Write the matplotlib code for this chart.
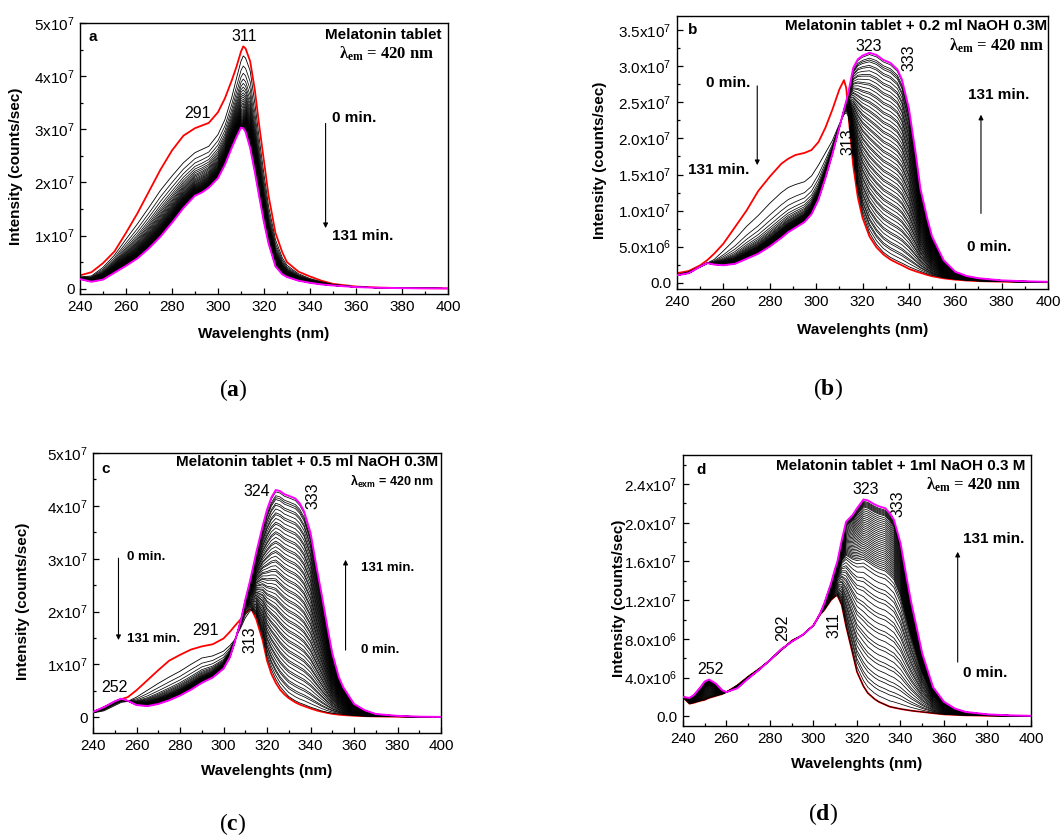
import numpy as np
import matplotlib
matplotlib.use('Agg')
import matplotlib.pyplot as plt
from matplotlib.ticker import MultipleLocator

plt.rcParams['font.family'] = ['Liberation Sans', 'DejaVu Sans']
plt.rcParams['mathtext.default'] = 'regular'
plt.rcParams['mathtext.fontset'] = 'custom'
plt.rcParams['mathtext.rm'] = 'Liberation Serif'
plt.rcParams['mathtext.bf'] = 'Liberation Serif:bold'

# spectra in units of 1e7 counts/sec
# (a) melatonin tablet
wl_a = [240, 245, 250, 255, 260, 265, 270, 275, 280, 285, 290, 293, 296, 300, 303, 306, 308, 310, 311,
        312, 314, 316, 318, 320, 322, 325, 328, 330, 335, 340, 345, 350, 360, 370, 380, 390, 400]
red_a = [0.25, 0.31, 0.48, 0.70, 1.05, 1.42, 1.83, 2.24, 2.60, 2.88, 3.02, 3.07, 3.12, 3.32, 3.58, 3.92, 4.17,
         4.46, 4.56, 4.52, 4.28, 3.75, 3.05, 2.40, 1.75, 1.05, 0.68, 0.50, 0.32, 0.23, 0.15, 0.09, 0.04, 0.02,
         0.012, 0.008, 0.005]
first_a = [0.22, 0.24, 0.40, 0.63, 0.93, 1.22, 1.53, 1.85, 2.12, 2.37, 2.56, 2.62, 2.68, 2.90, 3.18, 3.60, 3.95,
           4.28, 4.38, 4.34, 4.10, 3.50, 2.80, 2.15, 1.55, 0.92, 0.58, 0.44, 0.28, 0.19, 0.13, 0.08, 0.035, 0.018,
           0.011, 0.007, 0.005]
mag_a = [0.18, 0.13, 0.17, 0.30, 0.43, 0.57, 0.76, 0.98, 1.24, 1.52, 1.75, 1.81, 1.90, 2.08, 2.33, 2.65, 2.85,
         3.03, 3.02, 2.95, 2.65, 2.20, 1.72, 1.25, 0.85, 0.42, 0.27, 0.22, 0.15, 0.11, 0.08, 0.06, 0.03, 0.016,
         0.01, 0.007, 0.005]
# progress (%) of each intermediate scan from the first black scan to the 131 min one
steps_a = [14, 24, 32, 38, 43, 47, 51, 54, 57, 60, 62.5, 65, 67, 69, 71, 73, 74.5, 76, 77.5, 79, 80.3, 81.5,
           82.7, 83.8, 84.9, 85.9, 86.9, 87.8, 88.7, 89.5, 90.3, 91.1, 91.8, 92.5, 93.2, 93.8, 94.4, 95, 95.5,
           96, 96.5, 97, 97.5, 97.9, 98.3, 98.7, 99.1, 99.5]

# (b) + 0.2 ml NaOH
wl_b = [240, 245, 250, 253, 256, 260, 265, 270, 275, 280, 285, 288, 291, 295, 298, 301, 304, 307, 310, 312,
        313, 314, 316, 318, 320, 323, 326, 329, 332, 335, 337, 340, 343, 345, 348, 350, 355, 360, 365, 370,
        380, 390, 400]
red_b = [0.13, 0.16, 0.24, 0.31, 0.40, 0.54, 0.77, 1.00, 1.27, 1.47, 1.65, 1.72, 1.77, 1.80, 1.84, 1.95, 2.15,
         2.40, 2.68, 2.81, 2.70, 2.30, 1.62, 1.18, 0.90, 0.64, 0.49, 0.39, 0.32, 0.27, 0.24, 0.19, 0.155, 0.135,
         0.105, 0.088, 0.058, 0.04, 0.028, 0.02, 0.012, 0.007, 0.005]
first_b = [0.11, 0.15, 0.22, 0.27, 0.32, 0.44, 0.60, 0.78, 0.93, 1.10, 1.25, 1.32, 1.36, 1.40, 1.48, 1.63, 1.80,
           1.97, 2.20, 2.33, 2.36, 2.30, 1.72, 1.26, 0.96, 0.69, 0.53, 0.42, 0.35, 0.30, 0.27, 0.22, 0.18, 0.155,
           0.12, 0.10, 0.066, 0.045, 0.032, 0.023, 0.014, 0.008, 0.005]
mag_b = [0.10, 0.13, 0.22, 0.27, 0.25, 0.24, 0.26, 0.33, 0.40, 0.50, 0.62, 0.70, 0.76, 0.84, 0.95, 1.15, 1.45,
         1.78, 2.15, 2.40, 2.52, 2.65, 2.98, 3.10, 3.15, 3.19, 3.16, 3.09, 3.05, 2.96, 2.82, 2.42, 1.78, 1.30,
         0.88, 0.64, 0.31, 0.15, 0.09, 0.06, 0.03, 0.018, 0.01]
steps_b_short = [27, 40, 50, 57, 62, 66, 69, 72, 74, 76, 78, 79.5, 81, 82, 83, 84, 85, 86, 87, 87.5, 88, 88.5,
                 89, 89.5, 90, 90.5, 91, 91.5, 92, 92.4, 92.8, 93.2, 93.6, 94, 94.3, 94.6, 94.9, 95.2, 95.5, 95.8,
                 96.1, 96.4, 96.7, 97, 97.2, 97.4, 97.6, 97.8, 98, 98.2, 98.4, 98.6, 98.8, 99, 99.2, 99.4, 99.5,
                 99.6, 99.8, 99.9]
steps_even = [2, 4, 5, 7, 8, 10, 12, 13, 15, 17, 18, 20, 22, 23, 25, 27, 28, 30, 32, 33, 35, 37, 38, 40, 42, 43,
              45, 47, 48, 50, 52, 53, 55, 57, 58, 60, 62, 63, 65, 67, 68, 70, 72, 73, 75, 77, 78, 80, 82, 83, 85,
              87, 88, 90, 92, 93, 95, 96, 97, 99]

# (c) + 0.5 ml NaOH
wl_c = [240, 245, 250, 253, 256, 260, 265, 270, 275, 280, 285, 290, 295, 300, 303, 305, 308, 310, 312, 313,
        315, 318, 320, 322, 324, 326, 328, 330, 333, 335, 337, 340, 343, 345, 348, 350, 353, 355, 360, 365,
        370, 380, 390, 400]
red_c = [0.10, 0.15, 0.27, 0.34, 0.38, 0.51, 0.70, 0.89, 1.07, 1.18, 1.28, 1.34, 1.38, 1.49, 1.62, 1.72, 1.86,
         1.97, 2.04, 2.03, 1.86, 1.45, 1.07, 0.82, 0.65, 0.52, 0.43, 0.36, 0.28, 0.24, 0.21, 0.165, 0.125, 0.105,
         0.078, 0.063, 0.048, 0.04, 0.028, 0.019, 0.014, 0.009, 0.005, 0.003]
first_c = [0.08, 0.12, 0.22, 0.28, 0.30, 0.38, 0.51, 0.64, 0.76, 0.87, 1.00, 1.12, 1.16, 1.25, 1.36, 1.46, 1.70,
           1.88, 2.00, 2.03, 1.92, 1.52, 1.14, 0.90, 0.72, 0.58, 0.48, 0.39, 0.31, 0.27, 0.24, 0.19, 0.15, 0.12,
           0.09, 0.075, 0.06, 0.05, 0.03, 0.02, 0.015, 0.01, 0.005, 0.003]
mag_c = [0.10, 0.19, 0.30, 0.35, 0.31, 0.23, 0.21, 0.25, 0.32, 0.41, 0.52, 0.65, 0.75, 0.92, 1.14, 1.40, 1.84,
         2.22, 2.55, 2.73, 3.11, 3.62, 3.93, 4.16, 4.30, 4.28, 4.22, 4.19, 4.14, 4.05, 3.90, 3.49, 2.79, 2.35,
         1.65, 1.21, 0.76, 0.57, 0.25, 0.13, 0.06, 0.025, 0.01, 0.005]
steps_c_short = [21, 36, 47, 53, 58, 62, 66, 69, 72, 74, 76, 78, 79.5, 81, 82, 83, 84, 85, 86, 87, 87.5, 88,
                 88.5, 89, 89.5, 90, 90.5, 91, 91.5, 92, 92.4, 92.8, 93.2, 93.6, 94, 94.3, 94.6, 94.9, 95.2, 95.5,
                 95.8, 96.1, 96.4, 96.7, 97, 97.2, 97.4, 97.6, 97.8, 98, 98.2, 98.4, 98.6, 98.8, 99, 99.2, 99.4,
                 99.6, 99.8, 99.9]

# (d) + 1 ml NaOH
wl_d = [240, 243, 245, 248, 250, 252, 255, 258, 260, 265, 270, 275, 280, 285, 290, 295, 300, 303, 305, 308,
        310, 311, 313, 315, 318, 320, 323, 325, 328, 330, 333, 335, 337, 340, 343, 345, 348, 350, 355, 360,
        365, 370, 380, 390, 400]
red_d = [0.20, 0.13, 0.14, 0.16, 0.17, 0.19, 0.21, 0.23, 0.25, 0.32, 0.41, 0.49, 0.58, 0.68, 0.78, 0.84, 0.94,
         1.05, 1.10, 1.20, 1.24, 1.25, 1.15, 0.93, 0.65, 0.46, 0.31, 0.24, 0.18, 0.15, 0.12, 0.10, 0.09, 0.076,
         0.065, 0.058, 0.05, 0.045, 0.032, 0.02, 0.015, 0.01, 0.006, 0.003, 0.002]
mag_d = [0.20, 0.19, 0.22, 0.30, 0.36, 0.38, 0.34, 0.27, 0.25, 0.29, 0.39, 0.48, 0.58, 0.69, 0.77, 0.84, 0.94,
         1.06, 1.17, 1.37, 1.53, 1.60, 1.82, 2.01, 2.08, 2.15, 2.24, 2.23, 2.19, 2.17, 2.15, 2.10, 2.03, 1.79,
         1.41, 1.17, 0.86, 0.65, 0.30, 0.15, 0.08, 0.045, 0.02, 0.01, 0.005]
steps_d = [3, 6, 8, 11, 13, 16, 19, 21, 24, 27, 29, 32, 35, 37, 40, 43, 45, 48, 51, 53, 56, 58, 61, 64, 66,
           68, 69, 70, 71, 72, 73, 74, 75, 76, 77, 78, 79, 80, 81, 82, 83, 84, 85, 86, 87, 88, 89, 90, 91, 92,
           93, 94, 95, 96, 96.5, 97, 97.5, 98, 98.5, 99]


def draw_family(ax, wl, red, start, final, steps_short, steps_long, split):
    wl = np.asarray(wl, float)
    red = np.asarray(red) * 1e7
    start = np.asarray(start) * 1e7
    final = np.asarray(final) * 1e7
    ax.plot(wl, red, color='red', lw=1.3, zorder=2)
    ax.plot(wl, start, color='black', lw=0.6, zorder=3)
    for s1, s2 in zip(steps_short, steps_long):
        p = np.interp(wl, [split - 2, split + 2], [s1 / 100, s2 / 100])
        ax.plot(wl, start + p * (final - start), color='black', lw=0.55, zorder=3)
    ax.plot(wl, final, color='magenta', lw=1.4, zorder=4)


def style_axes(ax, ylim, yticks, ylabels, yminor, ylab_x, xlab_y):
    ax.set_xlim(240, 400)
    ax.set_ylim(*ylim)
    ax.set_xticks(range(240, 401, 20))
    ax.xaxis.set_minor_locator(MultipleLocator(10))
    ax.set_yticks(yticks)
    ax.set_yticklabels(ylabels)
    ax.yaxis.set_minor_locator(MultipleLocator(yminor))
    ax.tick_params(which='both', direction='in', top=False, right=False, labelsize=11, width=0.9)
    ax.tick_params(which='major', length=4.5, pad=4)
    ax.tick_params(which='minor', length=2.5)
    for sp in ax.spines.values():
        sp.set_linewidth(1.0)
    ax.set_xlabel('Wavelenghts (nm)', fontweight='bold', fontsize=11)
    ax.set_ylabel('Intensity (counts/sec)', fontweight='bold', fontsize=11)
    ax.yaxis.set_label_coords(ylab_x, 0.47)
    ax.xaxis.set_label_coords(0.5, xlab_y)


def arrow(ax, x, y0, y1):
    ax.annotate('', xy=(x, y1), xytext=(x, y0),
                arrowprops=dict(arrowstyle='-|>', color='black', lw=0.8, mutation_scale=7, shrinkA=0, shrinkB=0))


fig = plt.figure(figsize=(10.62, 8.39), dpi=100)
fig.patch.set_facecolor('white')

serif_bold = dict(family='Liberation Serif', fontweight='bold', fontsize=12)
bold = dict(fontweight='bold', fontsize=11)
peak = dict(ha='center', va='center', fontsize=11.5)

# ---- (a)
ax = fig.add_axes([0.0753, 0.6496, 0.3465, 0.323])
draw_family(ax, wl_a, red_a, first_a, mag_a, steps_a, steps_a, 300)
style_axes(ax, (-1.0e6, 5.0e7), [0, 1e7, 2e7, 3e7, 4e7, 5e7],
           ['0', '1x10$^7$', '2x10$^7$', '3x10$^7$', '4x10$^7$', '5x10$^7$'], 0.5e7, -0.154, -0.122)
ax.text(243.5, 4.73e7, 'a', va='center', **bold)
ax.text(397.4, 4.77e7, 'Melatonin tablet', ha='right', va='center', **bold)
ax.text(373.3, 4.42e7, 'λ$_{em}$ = 420 nm', ha='center', va='center', **serif_bold)
ax.text(291, 3.3e7, '291', **peak)
ax.text(311.5, 4.75e7, '311', **peak)
ax.text(349.6, 3.21e7, '0 min.', va='center', **bold)
ax.text(349.6, 0.99e7, '131 min.', va='center', **bold)
arrow(ax, 346.8, 3.11e7, 1.14e7)

# ---- (b)
ax = fig.add_axes([0.6375, 0.6555, 0.3493, 0.3254])
draw_family(ax, wl_b, red_b, first_b, mag_b, steps_b_short, steps_even, 313)
style_axes(ax, (-0.9e6, 3.7e7), [0, 0.5e7, 1e7, 1.5e7, 2e7, 2.5e7, 3e7, 3.5e7],
           ['0.0', '5.0x10$^6$', '1.0x10$^7$', '1.5x10$^7$', '2.0x10$^7$', '2.5x10$^7$', '3.0x10$^7$',
            '3.5x10$^7$'], 0.25e7, -0.19, -0.125)
ax.text(244.9, 3.51e7, 'b', va='center', **bold)
ax.text(399.5, 3.56e7, 'Melatonin tablet + 0.2 ml NaOH 0.3M', ha='right', va='center', **bold)
ax.text(398.3, 3.28e7, 'λ$_{em}$ = 420 nm', ha='right', va='center', **serif_bold)
ax.text(322.5, 3.28e7, '323', **peak)
ax.text(340.2, 3.12e7, '333', rotation=90, **peak)
ax.text(313.9, 1.96e7, '313', rotation=90, **peak)
ax.text(252.4, 2.77e7, '0 min.', va='center', **bold)
ax.text(244.9, 1.56e7, '131 min.', va='center', **bold)
arrow(ax, 274.6, 2.73e7, 1.63e7)
ax.text(365.6, 2.60e7, '131 min.', va='center', **bold)
ax.text(365.2, 0.50e7, '0 min.', va='center', **bold)
arrow(ax, 371.1, 0.96e7, 2.33e7)

# ---- (c)
ax = fig.add_axes([0.0876, 0.1263, 0.3277, 0.3337])
draw_family(ax, wl_c, red_c, first_c, mag_c, steps_c_short, steps_even, 311)
style_axes(ax, (-3.0e6, 5.0e7), [0, 1e7, 2e7, 3e7, 4e7, 5e7],
           ['0', '1x10$^7$', '2x10$^7$', '3x10$^7$', '4x10$^7$', '5x10$^7$'], 0.5e7, -0.18, -0.111)
small_bold = dict(fontweight='bold', fontsize=9.5)
ax.text(244, 4.70e7, 'c', va='center', **bold)
ax.text(398.8, 4.83e7, 'Melatonin tablet + 0.5 ml NaOH 0.3M', ha='right', va='center', **bold)
ax.text(396.5, 4.47e7, 'λ$_{exm}$ = 420 nm', ha='right', va='center', fontweight='bold', fontsize=9)
ax.text(315.1, 4.28e7, '324', **peak)
ax.text(341, 4.20e7, '333', rotation=90, **peak)
ax.text(291.9, 1.65e7, '291', **peak)
ax.text(312.3, 1.46e7, '313', rotation=90, **peak)
ax.text(249.8, 0.56e7, '252', **peak)
ax.text(255.5, 3.04e7, '0 min.', va='center', **small_bold)
ax.text(255.5, 1.48e7, '131 min.', va='center', **small_bold)
arrow(ax, 251.7, 3.01e7, 1.46e7)
ax.text(363.3, 2.82e7, '131 min.', va='center', **small_bold)
ax.text(363.3, 1.27e7, '0 min.', va='center', **small_bold)
arrow(ax, 356.1, 1.27e7, 2.98e7)

# ---- (d)
ax = fig.add_axes([0.6431, 0.1347, 0.3277, 0.323])
draw_family(ax, wl_d, red_d, red_d, mag_d, steps_d, steps_d, 300)
style_axes(ax, (-1.0e6, 2.7e7), [0, 0.4e7, 0.8e7, 1.2e7, 1.6e7, 2.0e7, 2.4e7],
           ['0.0', '4.0x10$^6$', '8.0x10$^6$', '1.2x10$^7$', '1.6x10$^7$', '2.0x10$^7$', '2.4x10$^7$'],
           0.2e7, -0.165, -0.114)
ax.text(246, 2.54e7, 'd', va='center', **bold)
ax.text(397.6, 2.59e7, 'Melatonin tablet + 1ml NaOH 0.3 M', ha='right', va='center', **bold)
ax.text(395.7, 2.39e7, 'λ$_{em}$ = 420 nm', ha='right', va='center', **serif_bold)
ax.text(324.1, 2.34e7, '323', **peak)
ax.text(339, 2.20e7, '333', rotation=90, **peak)
ax.text(285.8, 0.91e7, '292', rotation=90, **peak)
ax.text(309.4, 0.94e7, '311', rotation=90, **peak)
ax.text(252.7, 0.48e7, '252', **peak)
ax.text(368.9, 1.83e7, '131 min.', va='center', **bold)
ax.text(368.9, 0.45e7, '0 min.', va='center', **bold)
arrow(ax, 366.3, 0.56e7, 1.70e7)

# sub-figure captions
for letter, (x, y) in zip('abcd', [(233, 390), (828, 389), (233, 824), (823, 814)]):
    fig.text(x / 1062, 1 - y / 839, '($\\mathbf{%s}$)' % letter, ha='center', va='center',
             family='Liberation Serif', fontsize=17)

fig.savefig('out.png', dpi=100, facecolor='white')
